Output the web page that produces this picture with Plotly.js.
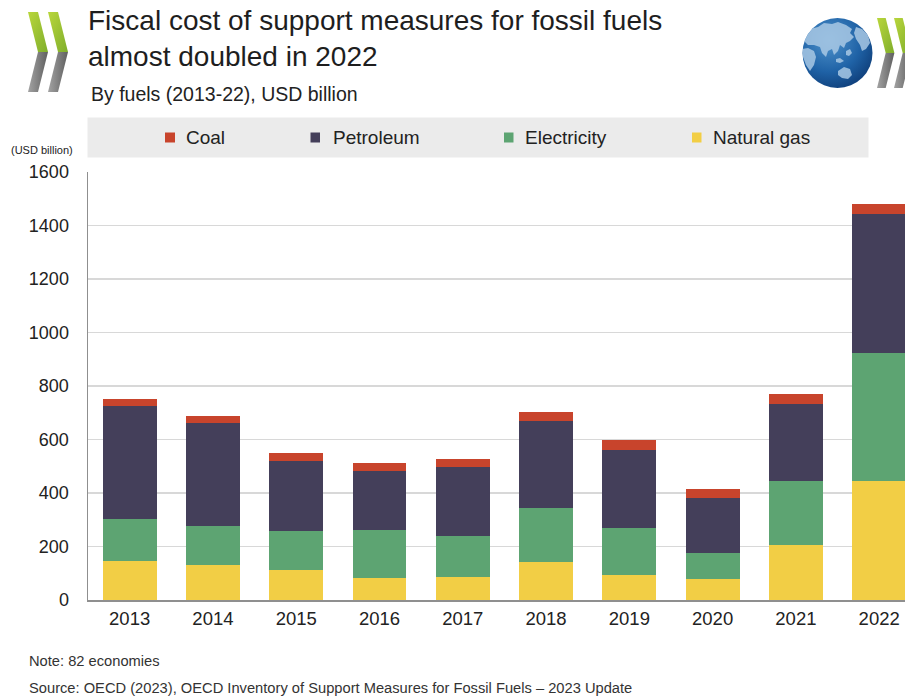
<!DOCTYPE html>
<html>
<head>
<meta charset="utf-8">
<script src="https://cdn.plot.ly/plotly-3.0.1.min.js"></script>
<style>
html,body{margin:0;padding:0;background:#ffffff;}
#chart{width:905px;height:697px;}
</style>
</head>
<body>
<div id="chart"></div>
<script>
// ---- data (USD billion) ----
const years = ['2013','2014','2015','2016','2017','2018','2019','2020','2021','2022'];
const naturalGas  = [146, 130, 112,  84,  86, 143,  94,  80, 204, 446];
const electricity = [157, 147, 145, 178, 152, 202, 174,  95, 241, 478];
const petroleum   = [424, 384, 263, 222, 258, 325, 294, 205, 287, 520];
const coal        = [ 26,  26,  29,  27,  30,  32,  37,  36,  37,  37];
const seriesNames = ['Natural gas', 'Electricity', 'Petroleum', 'Coal'];
const legendOrder = ['Coal', 'Petroleum', 'Electricity', 'Natural gas'];
const yTicks = [0, 200, 400, 600, 800, 1000, 1200, 1400, 1600];

const titleText = 'Fiscal cost of support measures for fossil fuels<br>almost doubled in 2022';
const subtitleText = 'By fuels (2013-22), USD billion';
const unitText = '(USD billion)';
const noteText = 'Note: 82 economies';
const sourceText = 'Source: OECD (2023), OECD Inventory of Support Measures for Fossil Fuels \u2013 2023 Update';

// ---- style ----
const colors = {'Natural gas':'#f2ce45','Electricity':'#5da472','Petroleum':'#443f5a','Coal':'#c8442c'};
const FONT = '"Liberation Sans", Arial, Helvetica, sans-serif';
const W = 905, H = 697, ML = 88, MR = 0, MT = 172, MB = 97;
const PW = W - ML - MR, PH = H - MT - MB;
const fx = px => (px - ML) / PW;
const fy = py => (H - MB - py) / PH;

const values = {'Natural gas':naturalGas,'Electricity':electricity,'Petroleum':petroleum,'Coal':coal};
const traces = seriesNames.map(n => ({
  type:'bar', name:n, x:years, y:values[n],
  marker:{color:colors[n], line:{width:0}},
  showlegend:false, hovertemplate:n+' %{x}: %{y}<extra></extra>'
}));

// ---- logos as inline SVG ----
function chevron(x0, top, bottom, w, green, gray){
  const mid = (top + bottom) / 2;
  return `<polygon points="${x0},${top} ${x0+w},${top} ${x0+2*w},${mid} ${x0+w},${mid}" fill="url(#${green})"/>`+
         `<polygon points="${x0+w},${mid} ${x0+2*w},${mid} ${x0+w},${bottom} ${x0},${bottom}" fill="url(#${gray})"/>`;
}
const grad = `<defs>
<linearGradient id="g" x1="0" y1="0" x2="1" y2="1"><stop offset="0" stop-color="#b9d63c"/><stop offset="1" stop-color="#7fae2b"/></linearGradient>
<linearGradient id="k" x1="0" y1="0" x2="1" y2="0"><stop offset="0" stop-color="#a3a3a3"/><stop offset="1" stop-color="#5f5f5f"/></linearGradient>
<radialGradient id="b" cx="0.38" cy="0.32" r="0.75"><stop offset="0" stop-color="#4f93cc"/><stop offset="0.6" stop-color="#1f62a6"/><stop offset="1" stop-color="#0e3d78"/></radialGradient>
<clipPath id="c"><circle cx="37.5" cy="38" r="35"/></clipPath>
</defs>`;
const leftSvg = `<svg xmlns="http://www.w3.org/2000/svg" width="48" height="88" viewBox="0 0 48 88">${grad}`+
  chevron(4, 4, 84, 10, 'g', 'k') + chevron(24, 4, 84, 10, 'g', 'k') + `</svg>`;
const rightSvg = `<svg xmlns="http://www.w3.org/2000/svg" width="105" height="80" viewBox="0 0 105 80">${grad}`+
  `<circle cx="37.5" cy="38" r="35" fill="url(#b)"/>`+
  `<g fill="#a9c8e4" opacity="0.85" clip-path="url(#c)">`+
  `<path d="M4,20 L10,14 L18,12 L24,8 L32,9 L38,7 L46,10 L52,14 L50,18 L54,22 L50,26 L46,28 L44,33 L40,30 L38,36 L34,40 L32,34 L28,36 L26,42 L22,38 L20,32 L14,30 L8,30 L4,26 Z"/>`+
  `<path d="M46,36 L50,34 L52,38 L49,41 L46,40 Z"/>`+
  `<path d="M36,44 L40,43 L44,46 L40,48 L36,47 Z"/>`+
  `<path d="M56,12 L62,14 L68,20 L70,28 L66,34 L62,36 L60,30 L56,24 L54,18 Z"/>`+
  `<path d="M2,34 L8,33 L14,36 L16,42 L14,50 L10,56 L6,50 L3,42 Z"/>`+
  `<path d="M38,56 L44,52 L50,54 L52,60 L48,64 L42,63 L38,60 Z"/>`+
  `</g>`+
  chevron(77, 3, 73, 8.7, 'g', 'k') + chevron(94, 3, 73, 8.7, 'g', 'k') + `</svg>`;
const uri = s => 'data:image/svg+xml;charset=utf-8,' + encodeURIComponent(s);

// ---- manual legend ----
const legendSquares = [[165,175],[310.5,320],[504,513.5],[692,701.5]];
const legendTextX = [184, 331, 523, 711];
const shapes = [
  {type:'rect', xref:'paper', yref:'paper', x0:fx(87.5), x1:fx(868.5), y0:fy(157.5), y1:fy(117.5), fillcolor:'#ebebeb', line:{width:0}, layer:'below'}
];
legendOrder.forEach((n,i)=>{
  shapes.push({type:'rect', xref:'paper', yref:'paper', x0:fx(legendSquares[i][0]), x1:fx(legendSquares[i][1]),
    y0:fy(142.5), y1:fy(132.5), fillcolor:colors[n], line:{width:0}});
});
const annotations = legendOrder.map((n,i)=>({
  xref:'paper', yref:'paper', x:fx(legendTextX[i]), y:fy(137.5), xanchor:'left', yanchor:'middle',
  text:n, showarrow:false, font:{family:FONT, size:19, color:'#222222'}
}));
annotations.push(
  {xref:'paper', yref:'paper', x:fx(89), y:fy(94), xanchor:'left', yanchor:'middle', text:subtitleText, showarrow:false,
   font:{family:FONT, size:19.5, color:'#222222'}},
  {xref:'paper', yref:'paper', x:fx(9), y:fy(150), xanchor:'left', yanchor:'middle', text:unitText, showarrow:false,
   font:{family:FONT, size:11, color:'#222222'}},
  {xref:'paper', yref:'paper', x:fx(27), y:fy(661), xanchor:'left', yanchor:'middle', text:noteText, showarrow:false,
   font:{family:FONT, size:14.7, color:'#333333'}},
  {xref:'paper', yref:'paper', x:fx(27), y:fy(688), xanchor:'left', yanchor:'middle', text:sourceText, showarrow:false,
   font:{family:FONT, size:14.7, color:'#333333'}}
);

const images = [
  {source:uri(leftSvg), xref:'paper', yref:'paper', x:fx(24), y:fy(8), sizex:48/PW, sizey:88/PH, sizing:'stretch', xanchor:'left', yanchor:'top', layer:'above'},
  {source:uri(rightSvg), xref:'paper', yref:'paper', x:fx(800), y:fy(15), sizex:105/PW, sizey:80/PH, sizing:'stretch', xanchor:'left', yanchor:'top', layer:'above'}
];

const layout = {
  width:W, height:H,
  margin:{l:ML, r:MR, t:MT, b:MB, pad:0},
  paper_bgcolor:'#ffffff', plot_bgcolor:'#ffffff',
  font:{family:FONT, color:'#222222'},
  title:{text:titleText, x:88/W, xref:'container', xanchor:'left', y:1-30/H, yref:'container', yanchor:'top',
         font:{family:FONT, size:28, color:'#1e1e1e'}},
  barmode:'stack', bargap:0.352,
  showlegend:false,
  xaxis:{type:'category', range:[-0.5, 9.31], showline:true, linecolor:'#8f8f8f', linewidth:1.5,
         showgrid:false, zeroline:false, ticks:'', ticklabelstandoff:1,
         tickfont:{family:FONT, size:18.5, color:'#222222'}, fixedrange:true},
  yaxis:{range:[0,1600], tickvals:yTicks, ticktext:yTicks.map(String), showline:true, linecolor:'#8f8f8f', linewidth:1.5,
         showgrid:true, gridcolor:'#d8d8d8', gridwidth:1.2, zeroline:false, ticks:'', ticklabelstandoff:14,
         tickfont:{family:FONT, size:18, color:'#222222'}, fixedrange:true},
  shapes:shapes, annotations:annotations, images:images
};

Plotly.newPlot('chart', traces, layout, {displayModeBar:false, staticPlot:true});
</script>
</body>
</html>
